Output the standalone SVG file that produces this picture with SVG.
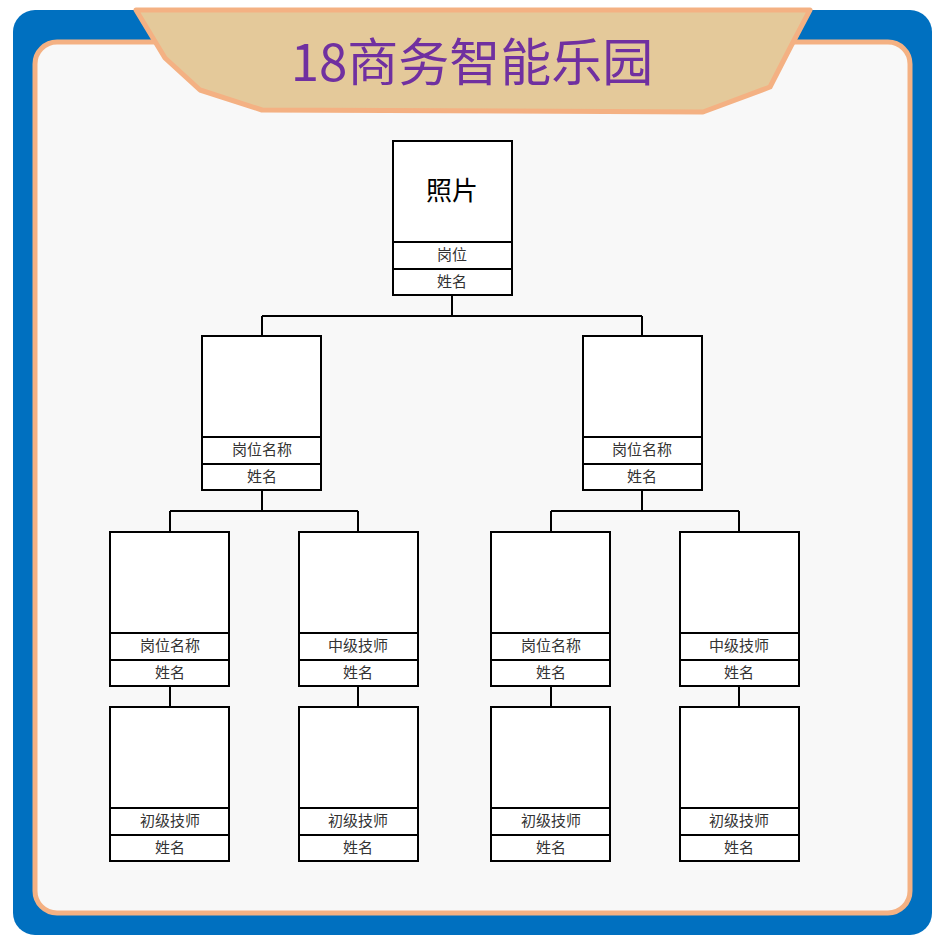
<svg xmlns="http://www.w3.org/2000/svg" width="945" height="945" viewBox="0 0 945 945">
<style>
.box{fill:#fff;stroke:#000;stroke-width:2}
.ln{fill:none;stroke:#000;stroke-width:2}
.t{font-family:"Noto Sans CJK SC","Noto Sans",sans-serif;font-size:15px;fill:#333;text-anchor:middle}
.ph{font-family:"Noto Sans CJK SC","Noto Sans",sans-serif;font-size:26px;fill:#000;text-anchor:middle}
</style>
<defs>
<g id="card">
<rect class="box" x="0" y="0" width="119" height="154"/>
<line class="ln" x1="0" y1="101" x2="119" y2="101"/>
<line class="ln" x1="0" y1="128" x2="119" y2="128"/>
</g>
</defs>
<rect x="13" y="10" width="919" height="925" rx="22" fill="#0070C0"/>
<rect x="35" y="42" width="875" height="871" rx="22" fill="#F8F8F8" stroke="#F4B183" stroke-width="5"/>
<g id="banner">
<polygon points="136,10 165,58 200,90 262,110 703,112 770,87 790,48 810,10" fill="#E4C99A" stroke="#F4B183" stroke-width="5" stroke-linejoin="round"/>
<text x="472" y="81" font-family="Noto Sans CJK SC,Noto Sans,sans-serif" font-size="51" fill="#7030A0" text-anchor="middle">18商务智能乐园</text>
</g>
<g id="connectors">
<path class="ln" d="M452,295V316M262,316H642M262,316V336M642,316V336"/>
<path class="ln" d="M262,490V511M170,511H358M170,511V531M358,511V531"/>
<path class="ln" d="M642,490V511M551,511H739M551,511V531M739,511V531"/>
<path class="ln" d="M170,686V706M358,686V706M551,686V706M739,686V706"/>
</g>
<g id="n0"><use href="#card" x="393" y="141"/><text class="ph" x="452" y="200">照片</text><text class="t" x="452" y="260">岗位</text><text class="t" x="452" y="287">姓名</text></g>
<g id="n1"><use href="#card" x="202" y="336"/><text class="t" x="262" y="455">岗位名称</text><text class="t" x="262" y="482">姓名</text></g>
<g id="n2"><use href="#card" x="583" y="336"/><text class="t" x="642" y="455">岗位名称</text><text class="t" x="642" y="482">姓名</text></g>
<g id="n3"><use href="#card" x="110" y="532"/><text class="t" x="170" y="651">岗位名称</text><text class="t" x="170" y="678">姓名</text></g>
<g id="n4"><use href="#card" x="299" y="532"/><text class="t" x="358" y="651">中级技师</text><text class="t" x="358" y="678">姓名</text></g>
<g id="n5"><use href="#card" x="491" y="532"/><text class="t" x="551" y="651">岗位名称</text><text class="t" x="551" y="678">姓名</text></g>
<g id="n6"><use href="#card" x="680" y="532"/><text class="t" x="739" y="651">中级技师</text><text class="t" x="739" y="678">姓名</text></g>
<g id="n7"><use href="#card" x="110" y="707"/><text class="t" x="170" y="826">初级技师</text><text class="t" x="170" y="853">姓名</text></g>
<g id="n8"><use href="#card" x="299" y="707"/><text class="t" x="358" y="826">初级技师</text><text class="t" x="358" y="853">姓名</text></g>
<g id="n9"><use href="#card" x="491" y="707"/><text class="t" x="551" y="826">初级技师</text><text class="t" x="551" y="853">姓名</text></g>
<g id="n10"><use href="#card" x="680" y="707"/><text class="t" x="739" y="826">初级技师</text><text class="t" x="739" y="853">姓名</text></g>
</svg>
